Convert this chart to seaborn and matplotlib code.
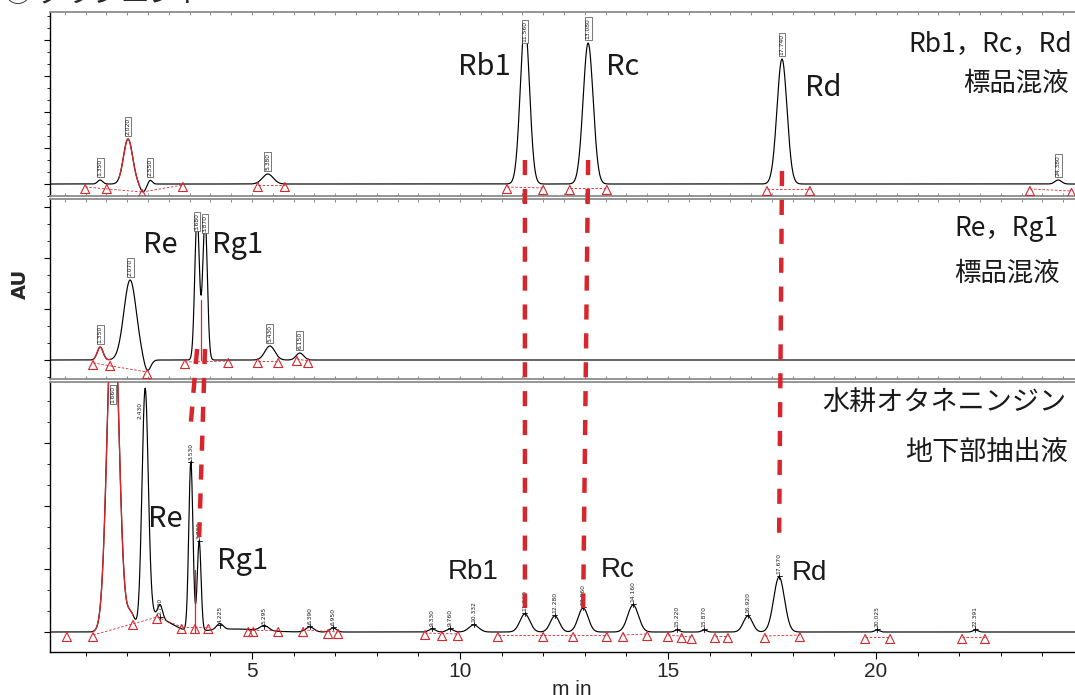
import numpy as np
import matplotlib
matplotlib.use("Agg")
import matplotlib.pyplot as plt
import seaborn as sns
from matplotlib.patches import ConnectionPatch
from matplotlib.ticker import MultipleLocator

# ---------------------------------------------------------------
# Upper trace: Rb1 / Rc / Rd standard mixture
# retention time (min), peak height, peak sigma (min)
mix1_rt = [1.35, 2.02, 2.55, 5.38, 11.56, 13.08, 17.74, 24.38]
mix1_height = [4, 45, 4, 10, 161, 141, 125, 4]
mix1_sigma = [0.06, 0.11, 0.05, 0.13, 0.11, 0.12, 0.12, 0.08]
mix1_extra_rt = [2.38]
mix1_extra_height = [-8]
mix1_extra_sigma = [0.07]
mix1_red_span = [(1.80, 2.30)]
mix1_mark_t = [0.99, 1.51, 2.36, 3.34, 5.14, 5.79, 11.13, 12.00, 12.64, 13.53, 17.38, 18.41, 23.70, 24.70]
mix1_mark_y = [-3, -3, -8, -1, -1, -1, -3, -4, -4, -4, -5, -5, -5, -7]
mix1_links = [(0, 2), (2, 3), (4, 5), (6, 7), (8, 9), (10, 11), (12, 13)]

# Middle trace: Re / Rg1 standard mixture
mix2_rt = [1.35, 2.07, 3.68, 3.87, 5.43, 6.15]
mix2_height = [13, 80, 145, 143, 14, 7]
mix2_sigma = [0.07, 0.15, 0.055, 0.055, 0.12, 0.09]
mix2_extra_rt = [2.48]
mix2_extra_height = [-12]
mix2_extra_sigma = [0.08]
mix2_red_span = [(1.18, 1.59)]
mix2_mark_t = [1.18, 1.59, 2.48, 3.39, 4.43, 5.14, 5.63, 6.08, 6.35]
mix2_mark_y = [-3, -4, -12, -2, -1, -1, -1, 1, -1]
mix2_links = [(0, 2), (3, 4), (5, 6), (7, 8)]
mix2_drop_rt = [3.78]
mix2_drop_top = [60]

# Lower trace: hydroponic Panax ginseng, underground-part extract
smp_rt = [1.66, 2.43, 2.79, 3.53, 3.73, 4.225, 5.295, 6.390, 6.950, 9.330, 9.760,
          10.332, 11.560, 12.280, 12.960, 14.160, 15.220, 15.870, 16.920, 17.670,
          20.025, 22.391]
smp_height = [352, 232, 14, 169, 90, 6, 5, 5, 4, 3, 3, 7, 18, 16, 24, 27, 2, 2, 16, 55, 2, 2]
smp_sigma = [0.135, 0.075, 0.06, 0.05, 0.045, 0.08, 0.10, 0.10, 0.08, 0.08, 0.08,
             0.12, 0.12, 0.11, 0.12, 0.13, 0.06, 0.06, 0.11, 0.13, 0.06, 0.06]
smp_extra_rt = [2.08, 2.55, 2.80, 4.60]
smp_extra_height = [18, 10, 12, 3]
smp_extra_sigma = [0.10, 0.12, 0.30, 0.60]
smp_red_span = [(1.18, 2.14)]
smp_mark_t = [0.55, 1.18, 2.14, 2.72, 3.31, 3.63, 3.95, 4.91, 5.03, 5.63, 6.23, 6.83, 7.07,
              9.16, 9.57, 9.95, 10.91, 12.00, 12.72, 13.53, 13.92, 14.50, 15.00, 15.33,
              15.57, 16.13, 16.44, 17.33, 18.17, 19.74, 20.34, 22.07, 22.62]
smp_mark_y = [-3, -3, 9, 15, 5, 5, 5, 2, 2, 2, 2, 0, 0, -1, -2, -2, -3, -3, -3, -3, -3,
              -2, -3, -4, -5, -4, -4, -4, -3, -5, -5, -5, -5]
smp_links = [(1, 3), (3, 4), (4, 6), (7, 9), (10, 12), (13, 15), (16, 19), (20, 21),
             (22, 24), (25, 26), (27, 28), (29, 30), (31, 32)]
smp_drop_rt = [3.63]
smp_drop_top = [62]

# Compound assignment between standard traces and the extract
link_names = ["Rb1", "Rc", "Rd", "Re", "Rg1"]
link_std_panel = [0, 0, 0, 1, 1]
link_std_rt = [11.56, 13.08, 17.74, 3.68, 3.87]
link_smp_rt = [11.56, 12.96, 17.67, 3.53, 3.73]
link_std_y = [24, 24, 13, 11, 11]
link_smp_y = [24, 24, 87, 209, 95]

x_ticks = [5, 10, 15, 20]

# ---------------------------------------------------------------
RED = "#d9262c"
INK = "#1a1a1a"
sns.set_theme(style="white")
JP = "Noto Sans CJK JP"
plt.rcParams["font.family"] = [JP, "DejaVu Sans"]

t = np.arange(0.0, 25.6, 0.004)


def chromatogram(rt, h, s):
    y = np.zeros_like(t)
    for a, b, c in zip(rt, h, s):
        y += b * np.exp(-0.5 * ((t - a) / c) ** 2)
    return y


W, H = 1075, 695
fig = plt.figure(figsize=(W / 100, H / 100), dpi=100)
XL = (0.144, 25.5)
x_left = 50
x_right = 44 + 41.6 * XL[1]


def add_panel(top_px, bot_px):
    return fig.add_axes([x_left / W, 1 - bot_px / H, (x_right - x_left) / W, (bot_px - top_px) / H])


ax0 = add_panel(12, 196)
ax1 = add_panel(199, 379)
ax2 = add_panel(382, 652)
axes = [ax0, ax1, ax2]
ylims = [(-12, 172), (-19, 161), (-20, 250)]
ystep = [12, 17, 21]

panels = [
    dict(rt=mix1_rt, h=mix1_height, s=mix1_sigma, ert=mix1_extra_rt, eh=mix1_extra_height,
         es=mix1_extra_sigma, red=mix1_red_span, mt=mix1_mark_t, my=mix1_mark_y,
         links=mix1_links, drop_rt=[], drop_top=[], boxed=True),
    dict(rt=mix2_rt, h=mix2_height, s=mix2_sigma, ert=mix2_extra_rt, eh=mix2_extra_height,
         es=mix2_extra_sigma, red=mix2_red_span, mt=mix2_mark_t, my=mix2_mark_y,
         links=mix2_links, drop_rt=mix2_drop_rt, drop_top=mix2_drop_top, boxed=True),
    dict(rt=smp_rt, h=smp_height, s=smp_sigma, ert=smp_extra_rt, eh=smp_extra_height,
         es=smp_extra_sigma, red=smp_red_span, mt=smp_mark_t, my=smp_mark_y,
         links=smp_links, drop_rt=smp_drop_rt, drop_top=smp_drop_top, boxed=False),
]

lab_kw = dict(rotation=90, fontsize=4.3, family="DejaVu Sans", zorder=5, color=INK)
box_kw = dict(boxstyle="square,pad=0.15", fc="white", ec="#444444", lw=0.5)

for i, (ax, p) in enumerate(zip(axes, panels)):
    y = chromatogram(p["rt"] + p["ert"], p["h"] + p["eh"], p["s"] + p["es"])
    sns.lineplot(x=t, y=y, ax=ax, color="black", lw=0.85, estimator=None, sort=False, zorder=2)
    for a, b in p["red"]:
        m = (t >= a) & (t <= b)
        sns.lineplot(x=t[m], y=y[m], ax=ax, color=RED, lw=0.95, estimator=None, sort=False, zorder=3)
    # integration baselines
    for a, b in p["links"]:
        ax.plot([p["mt"][a], p["mt"][b]], [p["my"][a], p["my"][b]], color=RED, lw=0.6,
                ls=(0, (3, 2)), zorder=2.5)
    for rt_d, top_d in zip(p["drop_rt"], p["drop_top"]):
        ax.plot([rt_d, rt_d], [0, top_d], color=RED, lw=0.9, zorder=2.5)
    sns.scatterplot(x=p["mt"], y=[v - 2 for v in p["my"]], ax=ax, marker="^", s=42,
                    facecolor="none", edgecolor=RED, linewidth=0.8, zorder=4)
    # retention-time labels at each peak
    ytop = ylims[i][1]
    for rt, h in zip(p["rt"], p["h"]):
        lab = f"{rt:.3f}"
        if h > ytop:
            ax.text(rt, ytop - 4, lab, ha="center", va="top", bbox=box_kw, **lab_kw)
        elif p["boxed"]:
            if h + 30 > ytop:
                ax.text(rt, h + 2, lab, ha="center", va="top", bbox=box_kw, **lab_kw)
            else:
                ax.text(rt, h + 4, lab, ha="center", va="bottom", bbox=box_kw, **lab_kw)
        elif h + 30 > ytop:
            ax.text(rt - 0.06, h - 2, lab, ha="right", va="top", **lab_kw)
        else:
            ax.plot([rt, rt], [h - 2, h + 3], color="black", lw=0.6)
            ax.plot([rt - 0.06, rt + 0.06], [h + 1, h + 1], color="black", lw=0.6)
            ax.text(rt, h + 3, lab, ha="center", va="bottom", **lab_kw)

    ax.set_xlim(*XL)
    ax.set_ylim(*ylims[i])
    ax.set_xlabel("")
    ax.set_ylabel("")
    ax.yaxis.set_major_locator(MultipleLocator(ystep[i] * 3))
    ax.yaxis.set_minor_locator(MultipleLocator(ystep[i]))
    ax.tick_params(axis="y", which="major", left=True, length=4.5, width=0.8, color="black",
                   labelleft=False, direction="out")
    ax.tick_params(axis="y", which="minor", left=True, length=2.5, width=0.6, color="black",
                   direction="out")
    ax.spines["right"].set_visible(False)
    ax.spines["left"].set_color("black")
    ax.spines["left"].set_linewidth(1.0)
    ax.spines["top"].set_color("#8c8c8c")
    ax.spines["top"].set_linewidth(1.3)
    ax.spines["bottom"].set_color("#8c8c8c")
    ax.spines["bottom"].set_linewidth(1.3)
    ax.grid(False)
    ax.xaxis.set_minor_locator(MultipleLocator(0.5))
    if i < 2:
        ax.set_xticks(x_ticks)
        ax.tick_params(axis="x", which="both", bottom=True, top=True, direction="in",
                       length=2, width=0.6, color="#777777", labelbottom=False)
    else:
        ax.xaxis.set_minor_locator(MultipleLocator(1))
        ax.set_xticks(x_ticks)
        ax.set_xticklabels([str(v) for v in x_ticks], family="Liberation Sans", fontsize=15)
        ax.tick_params(axis="x", which="major", bottom=True, top=False, direction="out",
                       length=5, width=0.8, color="black", pad=2)
        ax.tick_params(axis="x", which="minor", bottom=True, top=False, direction="out",
                       length=3, width=0.7, color="black")
        ax.spines["bottom"].set_color("black")
        ax.spines["bottom"].set_linewidth(1.0)

# dashed guides joining standard peaks with the extract peaks
for k in range(len(link_names)):
    src = axes[link_std_panel[k]]
    con = ConnectionPatch(xyA=(link_std_rt[k], link_std_y[k]), coordsA=src.transData,
                          xyB=(link_smp_rt[k], link_smp_y[k]), coordsB=ax2.transData,
                          color=RED, lw=3.2, linestyle=(0, (3.4, 3.1)), capstyle="butt",
                          zorder=6)
    fig.add_artist(con)

# compound and sample annotations
big = dict(family=[JP], fontsize=21, color=INK)
ax0.text(10.58, 117, "Rb1", ha="center", va="center", **big)
ax0.text(13.90, 117, "Rc", ha="center", va="center", **big)
ax0.text(18.73, 96, "Rd", ha="center", va="center", **big)
ax0.text(24.71, 140, "Rb1，Rc，Rd", ha="right", va="center", family=[JP], fontsize=19, color=INK)
ax0.text(24.62, 101, "標品混液", ha="right", va="center", family=[JP], fontsize=19, color=INK)

ax1.text(2.79, 115, "Re", ha="center", va="center", **big)
ax1.text(4.66, 115, "Rg1", ha="center", va="center", **big)
ax1.text(24.38, 132, "Re，Rg1", ha="right", va="center", family=[JP], fontsize=19, color=INK)
ax1.text(24.42, 87, "標品混液", ha="right", va="center", family=[JP], fontsize=19, color=INK)

ax2.text(2.91, 113, "Re", ha="center", va="center", **big)
ax2.text(4.78, 71, "Rg1", ha="center", va="center", **big)
arial = dict(family="Liberation Sans", fontsize=20, color=INK)
ax2.text(10.31, 60, "Rb1", ha="center", va="center", **arial)
ax2.text(13.78, 62, "Rc", ha="center", va="center", **arial)
ax2.text(18.39, 59, "Rd", ha="center", va="center", **arial)
ax2.text(18.70, 229, "水耕オタネニンジン", ha="left", va="center", family=[JP], fontsize=19.5,
         color=INK)
ax2.text(20.70, 180, "地下部抽出液", ha="left", va="center", family=[JP], fontsize=19.5,
         color=INK)

fig.text(20 / W, 1 - 284 / H, "AU", rotation=90, ha="center", va="center",
         family="DejaVu Sans", fontweight="bold", fontsize=14)
fig.text(572 / W, 1 - 680 / H, "m in", ha="center", va="top", family="Liberation Sans",
         fontsize=15)
fig.text(4 / W, 1 + 6 / H, "② グラジエント", ha="left", va="center", family=[JP, "DejaVu Sans"],
         fontsize=20)

fig.savefig("out.png", dpi=100, facecolor="white")
